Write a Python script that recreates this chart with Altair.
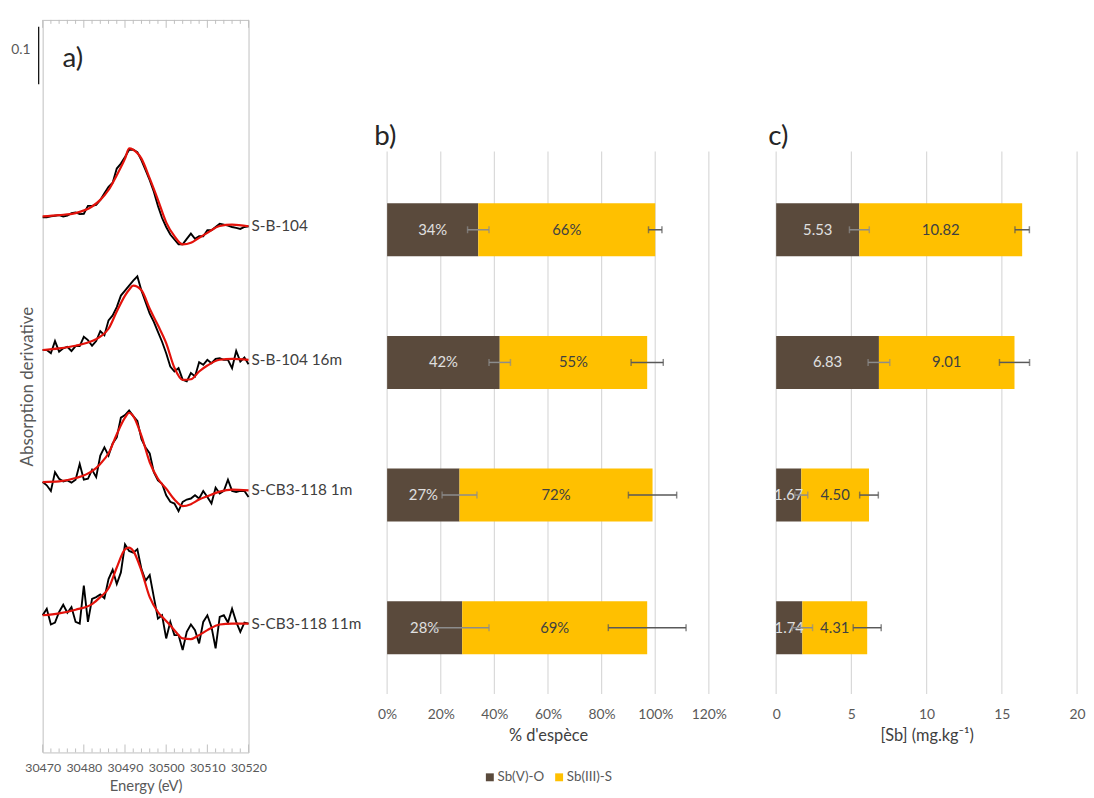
import altair as alt
import pandas as pd

FONT = "Lato"
GREY = "#595959"
DARK = "#404040"
BROWN = "#5A4A3C"
YELLOW = "#FFC000"
FRAME = "#BFBFBF"
GRID = "#D9D9D9"

# ---------------- panel a : XANES derivative spectra ----------------
samples = ["S-B-104", "S-B-104 16m", "S-CB3-118 1m", "S-CB3-118 11m"]
energy = list(range(30470, 30521))
offsets = [0.932, 0.701, 0.471, 0.240]

s1 = [0, 0, 0.0017, 0.0029, 0.004, 0.0017, 0.0029, 0.0075, 0.0086, 0.0057,
      0.0063, 0.0201, 0.0201, 0.0218, 0.0305, 0.042, 0.0534, 0.0603, 0.0851, 0.0937,
      0.1052, 0.1178, 0.1178, 0.1138, 0.0994, 0.0822, 0.0649, 0.0448, 0.0201, -0.0011,
      -0.0167, -0.0299, -0.0385, -0.0471, -0.0471, -0.0374, -0.0282, -0.0374, -0.0328, -0.0328,
      -0.0224, -0.0224, -0.0167, -0.0109, -0.0126, -0.0144, -0.0167, -0.0184, -0.0201, -0.0167,
      -0.0155]
s2 = [0, 0, -0.0057, 0.0155, -0.0029, 0.0029, 0.0057, -0.0017, 0.0069, 0.0069,
      0.023, 0.0172, 0.0075, 0.0155, 0.0328, 0.0259, 0.0517, 0.0603, 0.0747, 0.0948,
      0.1034, 0.1121, 0.1207, 0.1282, 0.1034, 0.0833, 0.0632, 0.0489, 0.0316, 0.0144,
      -0.0057, -0.0287, -0.0374, -0.0316, -0.0517, -0.0546, -0.0402, -0.046, -0.0213, -0.0259,
      -0.0172, -0.023, -0.0155, -0.0144, -0.0172, -0.0172, -0.0316, -0.0017, -0.0201, -0.0132,
      -0.0247]
s3 = [0, -0.0057, -0.0155, 0.0172, 0.0057, 0.0011, 0.0029, -0.0011, 0.004, 0.0316,
      0.004, 0.0057, 0.0213, 0.0086, 0.046, 0.0603, 0.046, 0.0672, 0.0776, 0.1121,
      0.1167, 0.1247, 0.1149, 0.1063, 0.0747, 0.0603, 0.05, 0.0172, 0.0029, -0.0029,
      -0.023, -0.0345, -0.0374, -0.0506, -0.0345, -0.0305, -0.0287, -0.023, -0.0287, -0.0155,
      -0.0259, -0.0374, -0.0098, -0.0201, -0.0155, 0.004, -0.0155, -0.0172, -0.0155, -0.0155,
      -0.0259]
s4 = [-0.0011, 0.0103, -0.0172, -0.0138, 0.0046, 0.0172, 0.0034, 0.0132, -0.0126, -0.0155,
      0.0506, -0.0126, 0.0276, 0.0305, 0.0351, 0.0287, 0.0621, 0.0782, 0.0534, 0.0736,
      0.1224, 0.1109, 0.108, 0.1138, 0.0793, 0.0592, 0.069, 0.0305, -0.0069, -0.0011,
      -0.0414, -0.0126, -0.0356, -0.0356, -0.0615, -0.0299, -0.0172, -0.027, -0.05, -0.0126,
      -0.0011, -0.0213, -0.0586, -0.004, -0.0011, -0.0138, 0.0103, -0.0126, -0.0299, -0.0138,
      -0.0155]

fit_energy = [30470, 30474, 30478, 30482, 30484, 30486, 30488, 30490, 30491, 30492, 30494,
              30496, 30498, 30500, 30502, 30504, 30506, 30508, 30510, 30513, 30516, 30520]
fit1 = [0.0017, 0.004, 0.0075, 0.019, 0.0305, 0.0477, 0.0736, 0.1023, 0.1201, 0.1178, 0.1023,
        0.0678, 0.0305, -0.0086, -0.0328, -0.0471, -0.0443, -0.0356, -0.027, -0.015, -0.0126, -0.0155]
fit2 = [0, 0.0029, 0.0075, 0.0155, 0.0235, 0.037, 0.067, 0.0948, 0.105, 0.112, 0.104,
        0.0718, 0.043, 0.012, -0.031, -0.052, -0.051, -0.0374, -0.027, -0.017, -0.0155, -0.0172]
fit3 = [0, 0.0011, 0.0069, 0.019, 0.0316, 0.05, 0.0833, 0.1121, 0.1207, 0.1149, 0.0805,
        0.0345, 0.0057, -0.0115, -0.0305, -0.042, -0.0385, -0.0305, -0.0247, -0.0167, -0.0132, -0.0144]
fit4 = [-0.0011, 0.0023, 0.0086, 0.0184, 0.0305, 0.046, 0.0822, 0.1138, 0.1167, 0.1109, 0.0764,
        0.0305, 0.0046, -0.0109, -0.027, -0.0414, -0.0425, -0.0356, -0.027, -0.0172, -0.0155, -0.0155]

scale_bar = [1.164, 1.264]          # 0.1 absorption-derivative units
energy_major = [30470, 30480, 30490, 30500, 30510, 30520]
energy_minor = [30472, 30474, 30476, 30478, 30482, 30484, 30486, 30488, 30492, 30494, 30496,
                30498, 30502, 30504, 30506, 30508, 30512, 30514, 30516, 30518]

# ---------------- panels b, c : speciation ----------------
species = ["Sb(V)-O", "Sb(III)-S"]
pct_v = [0.34, 0.42, 0.27, 0.28]
pct_iii = [0.66, 0.55, 0.72, 0.69]
pct_err_v = [0.04, 0.04, 0.065, 0.10]
pct_err_iii = [0.025, 0.06, 0.09, 0.145]
conc_v = [5.53, 6.83, 1.67, 1.74]
conc_iii = [10.82, 9.01, 4.50, 4.31]
conc_err_v = [0.66, 0.72, 0.43, 0.68]
conc_err_iii = [0.48, 1.00, 0.62, 0.93]
pct_ticks = [0, 0.2, 0.4, 0.6, 0.8, 1.0, 1.2]
conc_ticks = [0, 5, 10, 15, 20]

# ---------------- tables ----------------
raw_rows, fit_rows, lab_rows = [], [], []
for name, off, vals, fit in zip(samples, offsets, [s1, s2, s3, s4], [fit1, fit2, fit3, fit4]):
    for e, v in zip(energy, vals):
        raw_rows.append({"sample": name, "energy": e, "value": off + v})
    for e, v in zip(fit_energy, fit):
        fit_rows.append({"sample": name, "energy": e, "value": off + v})
    lab_rows.append({"sample": name, "energy": fit_energy[-1], "value": off + fit[-1]})
raw_df = pd.DataFrame(raw_rows)
fit_df = pd.DataFrame(fit_rows)
lab_df = pd.DataFrame(lab_rows)
major_df = pd.DataFrame({"energy": energy_major})
minor_df = pd.DataFrame({"energy": energy_minor})
bar_df = pd.DataFrame({"value": [scale_bar[0]], "value2": [scale_bar[1]]})


def stacked(vv, vi, ev, ei):
    rows = []
    for s, a, b, ea, eb in zip(samples, vv, vi, ev, ei):
        rows.append(dict(sample=s, species=species[0], start=0, end=a, mid=a / 2, val=a,
                         lo=a - ea, hi=a + ea))
        rows.append(dict(sample=s, species=species[1], start=a, end=a + b, mid=a + b / 2, val=b,
                         lo=a + b - eb, hi=a + b + eb))
    return pd.DataFrame(rows)


pct_df = stacked(pct_v, pct_iii, pct_err_v, pct_err_iii)
conc_df = stacked(conc_v, conc_iii, conc_err_v, conc_err_iii)


def one(t):
    return pd.DataFrame({"t": [t]})


# ---------------- panel a ----------------
HA = 740
xa_scale = alt.Scale(domain=[30470, 30520], nice=False, zero=False)
ya_scale = alt.Scale(domain=[0, 1.276], nice=False, zero=False)
xa_axis = alt.Axis(values=energy_major, format="d", title="Energy (eV)", labelFontSize=12.5,
                   labelColor=GREY, labelPadding=9, labelFlush=False, ticks=False, domain=False,
                   grid=False, titleFontSize=15, titleColor=GREY, titleFontWeight="normal",
                   titlePadding=5)
ya_axis = alt.Axis(title="Absorption derivative", labels=False, ticks=False, domain=False,
                   grid=False, titleFontSize=17, titleColor=GREY, titleFontWeight="normal",
                   titlePadding=6)
xa = alt.X("energy:Q", scale=xa_scale, axis=xa_axis)
ya = alt.Y("value:Q", scale=ya_scale, axis=ya_axis)

a_layers = [
    alt.Chart(raw_df).mark_line(color="black", strokeWidth=1.9).encode(x=xa, y=ya, detail="sample:N"),
    alt.Chart(fit_df).mark_line(color="#E3120B", strokeWidth=2.2, interpolate="monotone").encode(
        x=xa, y=ya, detail="sample:N"),
    alt.Chart(lab_df).mark_text(align="left", baseline="middle", dx=3, fontSize=15.5, color=DARK).encode(
        x=xa, y=ya, text="sample:N"),
    alt.Chart(major_df).mark_rule(color=FRAME).encode(x=xa, y=alt.value(HA), y2=alt.value(HA - 8)),
    alt.Chart(minor_df).mark_rule(color=FRAME).encode(x=xa, y=alt.value(HA), y2=alt.value(HA - 4)),
    alt.Chart(major_df).mark_rule(color=FRAME).encode(x=xa, y=alt.value(0), y2=alt.value(8)),
    alt.Chart(minor_df).mark_rule(color=FRAME).encode(x=xa, y=alt.value(0), y2=alt.value(4)),
    alt.Chart(bar_df).mark_rule(color="black", strokeWidth=1.2).encode(
        x=alt.value(-4), y=ya, y2="value2:Q"),
    alt.Chart(one("0.1")).mark_text(fontSize=14, color=GREY, align="center", baseline="middle").encode(
        x=alt.value(-22), y=alt.value(30), text="t:N"),
    alt.Chart(one("a)")).mark_text(fontSize=28, color="#262626", align="left", baseline="middle").encode(
        x=alt.value(20), y=alt.value(40), text="t:N"),
    alt.Chart(one("")).mark_rule(color="white", strokeWidth=1).encode(
        x=alt.value(-34), x2=alt.value(333), y=alt.value(-7)),
]
panel_a = alt.layer(*a_layers).properties(width=208, height=HA,
                                          view=alt.ViewBackground(stroke=FRAME))

# ---------------- panels b and c ----------------
HB = 681          # plot area shares panel a's top; bars sit in its lower part
color = alt.Color("species:N", scale=alt.Scale(domain=species, range=[BROWN, YELLOW]),
                  legend=alt.Legend(orient="none", legendX=445, legendY=758, direction="horizontal",
                                    title=None, symbolType="square", symbolSize=64,
                                    symbolStrokeWidth=0, labelFontSize=13.5, labelColor=GREY,
                                    labelOffset=1, columnPadding=8, padding=0))
y_band = alt.Y("sample:N", sort=samples, axis=None,
               scale=alt.Scale(paddingInner=0.6, paddingOuter=0.841, align=0.8217))


def bar_panel(df, domain, ticks, fmt, lab_fmt, title, width, letter, left, right):
    sc = alt.Scale(domain=domain, nice=False, zero=True)
    ax = alt.Axis(values=ticks, format=fmt, title=title, grid=False, labelFlush=False,
                  ticks=False, domain=False, labelPadding=14, labelFontSize=14, labelColor=GREY,
                  titleFontSize=16.5, titleColor=DARK, titleFontWeight="normal", titlePadding=6)

    def X(f):
        return alt.X(f, scale=sc, axis=ax)

    base = alt.Chart(df)
    grid_df = pd.DataFrame({"tick": ticks})
    layers = [
        alt.Chart(grid_df).mark_rule(color=GRID, strokeWidth=1.2).encode(
            x=X("tick:Q"), y=alt.value(133), y2=alt.value(HB)),
        base.mark_bar().encode(x=X("start:Q"), x2="end:Q", y=y_band, color=color),
    ]
    for sp, tcol, ecol in [(species[0], "#E0E0E0", "#8C8C8C"), (species[1], DARK, "#595959")]:
        sub = base.transform_filter(alt.datum.species == sp)
        layers.append(sub.mark_text(fontSize=15, color=tcol, baseline="middle").encode(
            x=X("mid:Q"), y=y_band, text=alt.Text("val:Q", format=lab_fmt)))
        layers.append(sub.mark_rule(color=ecol, strokeWidth=1.5).encode(
            x=X("lo:Q"), x2="hi:Q", y=y_band))
        layers.append(sub.mark_tick(color=ecol, orient="vertical", size=7, thickness=1.5).encode(
            x=X("lo:Q"), y=y_band))
        layers.append(sub.mark_tick(color=ecol, orient="vertical", size=7, thickness=1.5).encode(
            x=X("hi:Q"), y=y_band))
    layers.append(alt.Chart(one(letter)).mark_text(fontSize=28, color="#262626", align="left",
                                                   baseline="middle").encode(
        x=alt.value(left), y=alt.value(118), text="t:N"))
    layers.append(alt.Chart(one("")).mark_rule(color="white", strokeWidth=1).encode(
        x=alt.value(left), x2=alt.value(right), y=alt.value(2)))
    return alt.layer(*layers).properties(width=width, height=HB,
                                         view=alt.ViewBackground(stroke="transparent"))


panel_b = bar_panel(pct_df, [0, 1.2], pct_ticks, ".0%", ".0%", "% d'espèce", 325, "b)", -13, 383)
panel_c = bar_panel(conc_df, [0, 20], conc_ticks, "d", ".2f", "[Sb]  (mg.kg⁻¹)", 304, "c)", -8, 0)

chart = (
    alt.hconcat(panel_a, panel_b, panel_c, spacing=0)
    .properties(padding=0)
    .configure(font=FONT)
)

chart.save("out.html", embed_options={"renderer": "svg", "actions": False})
